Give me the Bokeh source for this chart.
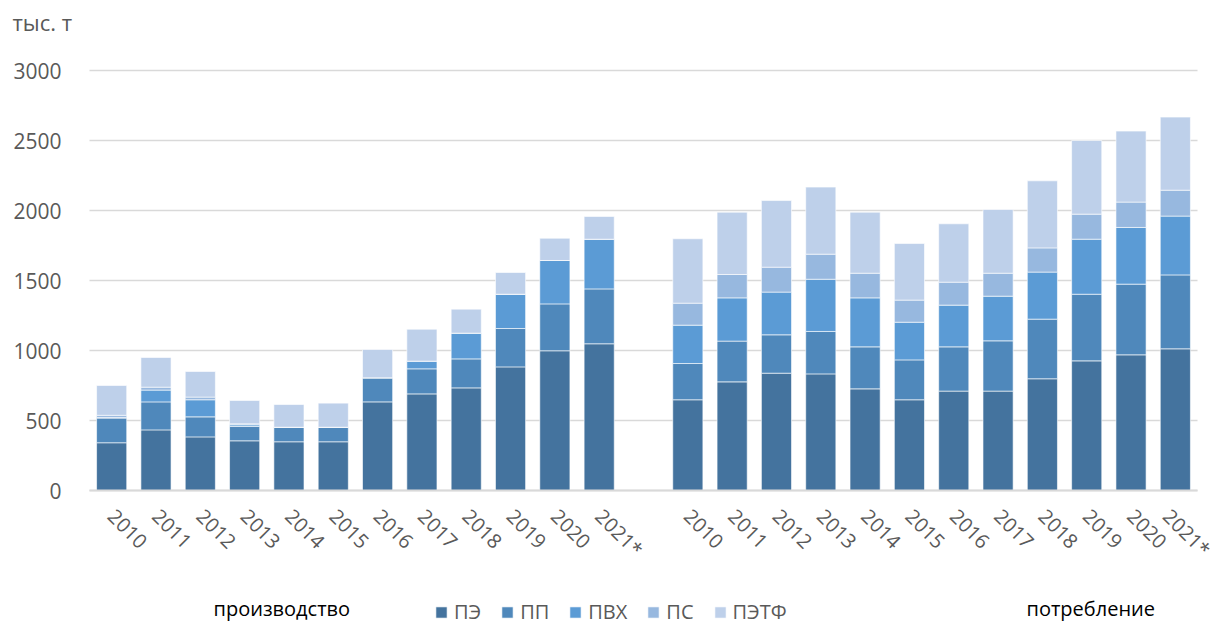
import math
from bokeh.plotting import figure
from bokeh.models import (Range1d, FixedTicker, Legend, LegendItem, Label,
                          ColumnDataSource, LinearAxis)
from bokeh.embed import file_html
from bokeh.resources import INLINE

years = ["2010", "2011", "2012", "2013", "2014", "2015", "2016", "2017",
         "2018", "2019", "2020", "2021*"]
series = ["ПЭ", "ПП", "ПВХ", "ПС", "ПЭТФ"]
colors = ["#44739e", "#4f88bb", "#5b9bd5", "#97b8df", "#bed0ea"]

# производство (тыс. т)
prod_pe = [341, 433, 383, 355, 348, 348, 633, 690, 733, 883, 998, 1048]
prod_pp = [176, 200, 143, 102, 104, 104, 172, 179, 207, 274, 335, 392]
prod_pvh = [5, 84, 122, 12, 0, 0, 0, 55, 184, 245, 310, 355]
prod_ps = [15, 21, 19, 7, 0, 0, 0, 0, 0, 0, 0, 0]
prod_petf = [213, 212, 183, 167, 162, 172, 202, 228, 171, 155, 159, 162]

# потребление (тыс. т)
cons_pe = [648, 776, 838, 833, 726, 648, 710, 710, 798, 926, 969, 1012]
cons_pp = [259, 291, 274, 303, 300, 285, 316, 359, 426, 476, 505, 528]
cons_pvh = [274, 309, 305, 373, 350, 269, 298, 319, 336, 393, 405, 420]
cons_ps = [157, 167, 178, 179, 176, 158, 164, 164, 173, 179, 181, 185]
cons_petf = [460, 445, 476, 479, 436, 404, 417, 455, 479, 526, 507, 522]

yticks = [0, 500, 1000, 1500, 2000, 2500, 3000]

n = len(years)
xs = list(range(n)) + [n + 1 + i for i in range(n)]
x_lo, x_hi = -0.5, 2 * n + 0.5
data = dict(
    x=xs,
    **{
        "ПЭ": prod_pe + cons_pe,
        "ПП": prod_pp + cons_pp,
        "ПВХ": prod_pvh + cons_pvh,
        "ПС": prod_ps + cons_ps,
        "ПЭТФ": prod_petf + cons_petf,
    }
)
source = ColumnDataSource(data)

W, H = 1216, 625
px_x = 1108 / (x_hi - x_lo)   # pixels per category slot
px_y = 0.14                    # pixels per 1 тыс. т
plot_left, plot_zero = 89, 490

p = figure(width=W, height=H, output_backend="svg", toolbar_location=None,
           x_range=Range1d(x_lo - plot_left / px_x, x_lo + (W - plot_left) / px_x),
           y_range=Range1d(-(H - plot_zero) / px_y, plot_zero / px_y),
           x_axis_location=None, y_axis_location=None,
           min_border_left=0, min_border_right=0, min_border_top=0,
           min_border_bottom=0)
p.grid.visible = False
p.outline_line_color = None

# horizontal gridlines, limited to the bar area
p.segment(x0=[x_lo] * len(yticks), x1=[x_hi] * len(yticks), y0=yticks, y1=yticks,
          line_color="#d9d9d9", line_width=1.5, level="underlay")

renderers = p.vbar_stack(series, x="x", width=0.68, color=colors, source=source,
                         line_color="white", line_width=1, line_alpha=0.6)

yaxis = LinearAxis(fixed_location=x_lo, ticker=FixedTicker(ticks=yticks),
                   bounds=(0, 3000), axis_line_color=None,
                   major_tick_line_color=None, minor_tick_line_color=None,
                   major_label_text_font="Open Sans",
                   major_label_text_font_size="21px",
                   major_label_text_color="#595959",
                   major_label_standoff=22)
p.add_layout(yaxis, "left")

xaxis = LinearAxis(fixed_location=0, ticker=FixedTicker(ticks=xs), bounds=(x_lo, x_hi),
                   major_label_overrides={x: years[i % n] for i, x in enumerate(xs)},
                   axis_line_color="#d9d9d9", axis_line_width=2,
                   major_tick_line_color=None, minor_tick_line_color=None,
                   major_label_orientation=-math.pi / 4,
                   major_label_text_font="Open Sans",
                   major_label_text_font_size="20px",
                   major_label_text_color="#595959",
                   major_label_standoff=16)
p.add_layout(xaxis, "below")

p.add_layout(Label(x=12, y=H - 21, x_units="screen", y_units="screen", text="тыс. т",
                   text_font="Open Sans", text_font_size="22px",
                   text_color="#595959", text_baseline="middle"))

legend = Legend(items=[LegendItem(label=s, renderers=[r]) for s, r in zip(series, renderers)],
                orientation="horizontal", location=(434, 0),
                glyph_width=14, glyph_height=14, spacing=19, label_standoff=6,
                padding=0, margin=0, border_line_color=None,
                background_fill_alpha=0,
                label_text_font="Open Sans", label_text_font_size="20px",
                label_text_color="#595959")
p.add_layout(legend, "center")

p.add_layout(Label(x=213, y=17, x_units="screen", y_units="screen", text="производство",
                   text_font="Open Sans", text_font_size="20px",
                   text_color="#000000", text_baseline="middle"))
p.add_layout(Label(x=1026, y=17, x_units="screen", y_units="screen", text="потребление",
                   text_font="Open Sans", text_font_size="20px",
                   text_color="#000000", text_baseline="middle"))

open("out.html", "w").write(file_html(p, INLINE))
